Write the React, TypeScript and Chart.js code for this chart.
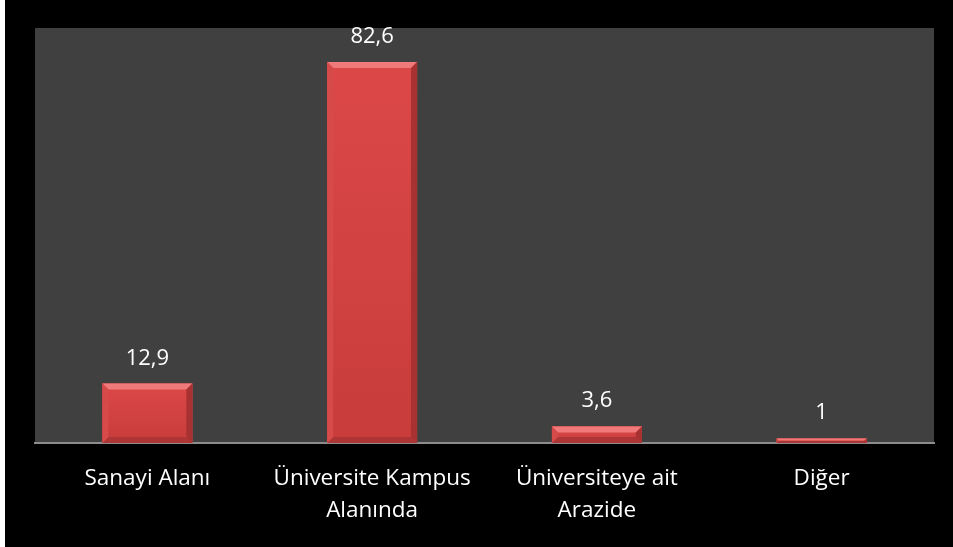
import React, { useEffect, useRef } from "react";
import { Chart, registerables } from "chart.js";

Chart.register(...registerables);

const categories: string[][] = [
  ["Sanayi Alanı"],
  ["Üniversite Kampus", "Alanında"],
  ["Üniversiteye ait", "Arazide"],
  ["Diğer"],
];
const values: number[] = [12.9, 82.6, 3.6, 1];
const valueLabels: string[] = ["12,9", "82,6", "3,6", "1"];
const yMin = 0;
const yMax = 90;

const FONT = "'Open Sans', 'DejaVu Sans', sans-serif";

const backgroundPlugin = {
  id: "bgPlugin",
  beforeDraw(chart: any) {
    const { ctx, chartArea } = chart;
    ctx.save();
    ctx.fillStyle = "#000000";
    ctx.fillRect(0, 0, chart.width, chart.height);
    ctx.fillStyle = "#404040";
    ctx.fillRect(
      chartArea.left,
      chartArea.top,
      chartArea.right - chartArea.left,
      chartArea.bottom - chartArea.top
    );
    ctx.restore();
  },
};

const bevelPlugin = {
  id: "bevelPlugin",
  afterDatasetsDraw(chart: any) {
    const { ctx } = chart;
    const meta = chart.getDatasetMeta(0);
    ctx.save();
    meta.data.forEach((bar: any, i: number) => {
      const l = bar.x - bar.width / 2;
      const r = bar.x + bar.width / 2;
      const t = bar.y;
      const b = bar.base;
      const h = b - t;
      const bv = Math.min(6, h / 2);
      // body gradient
      const g = ctx.createLinearGradient(0, t, 0, b);
      g.addColorStop(0, "#dc4848");
      g.addColorStop(1, "#c83c3c");
      ctx.fillStyle = g;
      ctx.fillRect(l, t, r - l, h);
      // top bevel
      ctx.fillStyle = "#f07a7a";
      ctx.beginPath();
      ctx.moveTo(l, t);
      ctx.lineTo(r, t);
      ctx.lineTo(r - bv, t + bv);
      ctx.lineTo(l + bv, t + bv);
      ctx.closePath();
      ctx.fill();
      // bottom bevel
      ctx.fillStyle = "#ad3535";
      ctx.beginPath();
      ctx.moveTo(l, b);
      ctx.lineTo(r, b);
      ctx.lineTo(r - bv, b - bv);
      ctx.lineTo(l + bv, b - bv);
      ctx.closePath();
      ctx.fill();
      // left bevel
      ctx.fillStyle = "#d64a4a";
      ctx.beginPath();
      ctx.moveTo(l, t);
      ctx.lineTo(l + bv, t + bv);
      ctx.lineTo(l + bv, b - bv);
      ctx.lineTo(l, b);
      ctx.closePath();
      ctx.fill();
      // right bevel
      ctx.fillStyle = "#a83131";
      ctx.beginPath();
      ctx.moveTo(r, t);
      ctx.lineTo(r - bv, t + bv);
      ctx.lineTo(r - bv, b - bv);
      ctx.lineTo(r, b);
      ctx.closePath();
      ctx.fill();
      // labels
      ctx.fillStyle = "#ffffff";
      ctx.font = `22px ${FONT}`;
      ctx.textAlign = "center";
      ctx.textBaseline = "alphabetic";
      ctx.fillText(valueLabels[i], bar.x, t - 19);
    });
    ctx.restore();
  },
};

export default function App() {
  const ref = useRef<HTMLCanvasElement | null>(null);

  useEffect(() => {
    document.body.style.margin = "0";
    const canvas = ref.current;
    if (!canvas) return;
    const chart = new Chart(canvas, {
      type: "bar",
      data: {
        labels: categories,
        datasets: [
          {
            data: values,
            backgroundColor: "#d24343",
            borderWidth: 0,
            barPercentage: 0.4,
            categoryPercentage: 1,
          },
        ],
      },
      options: {
        responsive: false,
        animation: false,
        devicePixelRatio: 1,
        layout: { padding: { left: 30, right: 19, top: 28, bottom: 0 } },
        plugins: {
          legend: { display: false },
          tooltip: { enabled: false },
          title: { display: false },
        },
        scales: {
          x: {
            grid: { display: false, drawTicks: false },
            border: { display: true, color: "#8c8c8c", width: 2 },
            ticks: {
              color: "#ffffff",
              font: { family: FONT, size: 22.5, lineHeight: 1.45 },
              padding: 19,
              maxRotation: 0,
              autoSkip: false,
            },
            afterFit: (scale: any) => {
              scale.height = 104;
            },
          },
          y: {
            display: false,
            min: yMin,
            max: yMax,
          },
        },
      },
      plugins: [backgroundPlugin, bevelPlugin],
    });
    return () => chart.destroy();
  }, []);

  return (
    <div style={{ position: "relative", width: 953, height: 547, background: "#ffffff" }}>
      <canvas
        ref={ref}
        width={948}
        height={547}
        style={{ position: "absolute", left: 5, top: 0, width: 948, height: 547 }}
      />
    </div>
  );
}
